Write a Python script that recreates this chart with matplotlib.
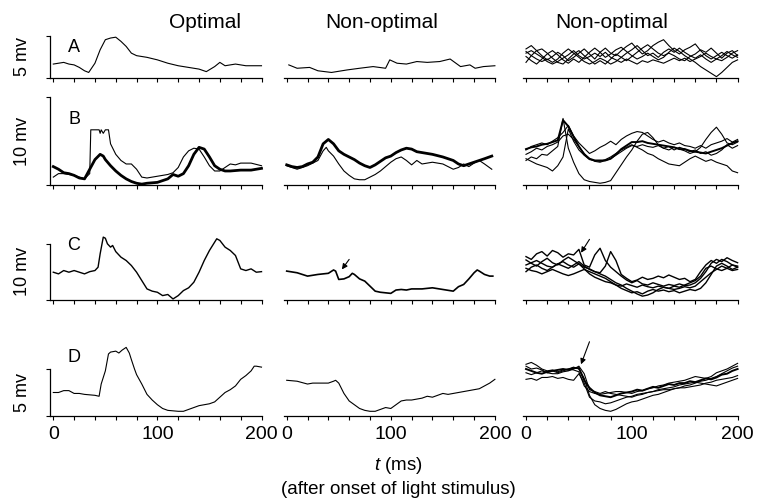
import matplotlib
matplotlib.use("Agg")
import matplotlib.pyplot as plt

plt.rcParams['font.family'] = ['Liberation Sans', 'DejaVu Sans']
plt.rcParams['mathtext.fontset'] = 'custom'
plt.rcParams['mathtext.it'] = 'Liberation Sans:italic'
plt.rcParams['mathtext.rm'] = 'Liberation Sans'

# ---------------- data (time in ms, voltage in mV above baseline) ----------------
col_titles = ["Optimal", "Non-optimal", "Non-optimal"]
row_letters = ["A", "B", "C", "D"]
row_scale_mv = [5, 10, 10, 5]
row_scale_labels = ["5 mv", "10 mv", "10 mv", "5 mv"]
xtick_values = [0, 20, 40, 60, 80, 100, 120, 140, 160, 180, 200]
xtick_labels = ["0", "", "", "", "", "100", "", "", "", "", "200"]

T5 = list(range(0, 201, 5))

# Row A
A1_t = [0, 5, 10, 15, 20, 25, 30, 34, 40, 45, 50, 55, 60, 65, 70, 75, 80, 90, 100, 110,
        120, 130, 140, 147, 155, 160, 165, 175, 185, 200]
A1_v = [1.6, 1.7, 1.8, 1.6, 1.5, 1.2, 0.8, 0.6, 1.7, 3.3, 4.5, 4.7, 4.8, 4.3, 3.7, 2.9, 2.6, 2.4, 2.1, 1.7,
        1.4, 1.2, 1.0, 0.7, 1.3, 1.8, 1.4, 1.6, 1.4, 1.4]
A2_t = [2, 10, 22, 30, 43, 58, 70, 83, 95, 99, 106, 115, 125, 135, 147, 157, 167, 176, 181, 189, 200]
A2_v = [1.5, 1.1, 1.2, 0.8, 0.6, 0.9, 1.1, 1.3, 1.1, 2.1, 1.7, 1.6, 1.9, 1.8, 1.9, 2.2, 1.3, 1.5, 1.1, 1.3, 1.4]
A3_1 = [3.4, 3.8, 3.2, 2.6, 2.1, 2.5, 3.0, 2.6, 2.0, 2.4, 2.9, 3.4, 2.8, 2.2, 3.0, 3.5, 2.9, 2.6, 3.2, 3.7,
        4.1, 3.4, 2.8, 3.2, 3.8, 4.2, 4.5, 3.8, 3.2, 2.8, 3.3, 3.6, 4.0, 3.2, 2.6, 2.2, 2.6, 3.0, 2.6, 2.3, 2.7]
A3_2 = [2.5, 2.0, 1.6, 2.2, 2.8, 3.2, 2.7, 2.1, 1.7, 2.2, 1.8, 2.4, 3.0, 3.5, 3.0, 2.4, 2.8, 3.3, 3.6, 3.1,
        2.6, 2.2, 2.5, 2.9, 2.5, 2.1, 2.4, 3.0, 3.5, 3.1, 2.6, 2.2, 1.8, 1.3, 0.9, 0.5, 0.1, 0.6, 1.2, 1.8, 2.1]
A3_3 = [1.8, 2.6, 3.2, 3.4, 2.9, 2.3, 1.8, 1.6, 2.2, 2.8, 3.2, 2.6, 2.1, 1.6, 2.0, 1.6, 2.2, 2.8, 2.4, 2.0,
        2.5, 3.0, 3.5, 3.9, 3.4, 2.9, 2.6, 2.9, 2.6, 2.2, 2.0, 2.5, 2.8, 3.3, 3.0, 3.5, 2.9, 2.3, 2.9, 3.2, 2.6]
A3_4 = [2.9, 3.2, 2.8, 2.4, 1.9, 1.6, 1.9, 2.3, 2.7, 3.2, 2.6, 2.2, 2.5, 2.9, 2.5, 3.0, 2.4, 2.1, 1.8, 2.2,
        1.9, 1.6, 2.0, 1.8, 2.1, 1.9, 1.7, 2.0, 2.3, 2.0, 2.3, 1.9, 2.2, 2.5, 2.9, 2.5, 2.2, 2.6, 3.1, 2.7, 2.4]
A3_5 = [3.1, 2.6, 2.2, 1.9, 2.2, 1.8, 2.2, 2.9, 3.4, 2.9, 2.4, 1.9, 1.6, 1.9, 2.3, 2.0, 1.6, 1.9, 2.4, 2.9,
        3.3, 3.8, 3.2, 2.6, 2.9, 2.4, 3.0, 3.4, 3.0, 3.5, 3.0, 2.6, 2.3, 2.7, 2.2, 1.8, 2.2, 2.0, 2.4, 2.9, 3.2]

# Row B
B1_thin_t = [0, 5, 10, 20, 30, 35, 36, 40, 44, 45, 46, 48, 50, 53, 55, 60, 65, 70, 75, 80,
             85, 90, 100, 110, 115, 120, 125, 130, 135, 140, 145, 150, 155, 160, 165, 170, 175, 180, 190, 200]
B1_thin_v = [0.9, 1.3, 1.3, 1.1, 0.7, 1.3, 6.3, 6.3, 6.3, 5.9, 6.3, 5.9, 6.3, 6.3, 4.7, 3.5, 2.8, 2.4, 2.4, 1.8,
             0.9, 0.8, 1.0, 1.2, 1.4, 2.0, 3.2, 3.9, 4.2, 4.1, 3.2, 2.2, 1.6, 1.6, 2.0, 2.4, 2.3, 2.5, 2.5, 2.2]
B1_thick_t = [0, 5, 10, 15, 20, 25, 30, 35, 40, 45, 48, 50, 55, 60, 65, 70, 75, 80, 85, 90,
              100, 110, 115, 120, 125, 130, 135, 140, 145, 150, 155, 160, 165, 170, 180, 190, 200]
B1_thick_v = [2.1, 1.8, 1.4, 1.3, 1.1, 0.8, 0.7, 1.8, 2.9, 3.5, 3.3, 2.9, 2.2, 1.6, 1.1, 0.7, 0.4, 0.2, 0.1, 0.2,
              0.3, 0.7, 1.2, 1.0, 1.3, 2.2, 3.5, 4.3, 4.1, 3.2, 2.2, 1.8, 1.6, 1.6, 1.7, 1.7, 1.9]
B2_thick_t = [0, 5, 10, 15, 20, 25, 30, 35, 40, 45, 50, 55, 60, 65, 70, 75, 80, 85, 90, 95,
              100, 105, 110, 115, 120, 125, 130, 140, 150, 160, 165, 170, 175, 180, 190, 197]
B2_thick_v = [2.3, 2.1, 2.0, 2.1, 2.4, 2.6, 3.2, 4.7, 5.2, 4.7, 3.9, 3.5, 3.2, 2.9, 2.5, 2.2, 2.0, 2.3, 2.7, 3.1,
              3.3, 3.7, 4.0, 4.2, 4.1, 3.8, 3.7, 3.5, 3.2, 2.8, 2.4, 2.2, 2.4, 2.6, 3.0, 3.3]
B2_thin_t = [0, 10, 20, 30, 35, 38, 40, 45, 50, 55, 60, 65, 70, 75, 80, 85, 90, 95, 100, 105,
             110, 115, 120, 125, 130, 140, 150, 160, 165, 170, 175, 180, 185, 190, 197]
B2_thin_v = [2.2, 1.8, 2.2, 2.8, 3.9, 4.3, 3.9, 3.3, 2.4, 1.6, 1.1, 0.7, 0.6, 0.6, 0.9, 1.2, 1.6, 2.1, 2.6, 3.0,
             3.2, 2.8, 2.3, 2.8, 2.4, 2.6, 2.4, 1.8, 2.0, 2.4, 2.1, 2.5, 2.8, 2.4, 1.8]
B3_1 = [2.8, 3.2, 3.0, 3.5, 3.4, 3.9, 4.4, 7.6, 4.2, 2.6, 1.3, 0.6, 0.4, 0.3, 0.2, 0.3, 0.5, 1.4, 2.3, 3.2,
        4.0, 5.0, 5.8, 6.0, 5.4, 4.6, 4.2, 4.4, 4.0, 4.3, 4.1, 3.8, 4.0, 3.6, 3.8, 3.4, 3.6, 4.0, 4.6, 4.2, 4.5]
B3_2 = [3.0, 2.7, 2.4, 2.2, 2.0, 1.6, 2.2, 3.2, 6.4, 5.0, 4.0, 3.4, 2.9, 2.8, 2.7, 2.9, 3.2, 3.6, 4.0, 4.3,
        4.6, 4.3, 4.0, 3.6, 3.4, 3.0, 2.7, 2.4, 2.3, 2.2, 2.6, 3.0, 3.3, 3.0, 2.7, 2.9, 2.6, 2.4, 2.2, 1.6, 1.4]
B3_3 = [4.0, 4.4, 4.6, 4.8, 4.6, 5.0, 5.4, 6.0, 6.8, 5.6, 4.8, 4.2, 3.6, 3.9, 4.3, 4.6, 5.0, 4.6, 5.2, 5.6,
        5.9, 6.1, 6.0, 5.6, 5.2, 4.9, 5.1, 4.8, 4.6, 4.8, 4.5, 4.4, 4.2, 4.5, 4.2, 4.6, 4.8, 5.0, 5.3, 4.9, 5.2]
B3_4 = [3.5, 3.8, 4.2, 4.0, 4.4, 4.6, 4.9, 5.6, 5.8, 5.2, 4.4, 3.6, 3.0, 2.7, 2.6, 2.8, 3.0, 3.4, 3.8, 4.2,
        4.5, 4.4, 4.6, 4.4, 4.3, 4.5, 4.2, 4.0, 4.3, 4.1, 3.9, 3.6, 3.8, 4.3, 5.2, 6.0, 6.6, 5.8, 4.8, 4.6, 4.9]
B3_5 = [4.1, 4.3, 4.4, 4.6, 4.7, 4.9, 5.1, 7.4, 6.7, 5.5, 4.4, 3.5, 3.0, 2.8, 2.8, 2.8, 3.0, 3.5, 4.1, 4.5,
        4.9, 4.9, 5.0, 4.8, 4.7, 4.6, 4.5, 4.4, 4.3, 4.1, 4.1, 3.9, 3.8, 3.7, 3.6, 3.8, 4.0, 4.2, 4.5, 4.8, 5.0]

# Row C
C1_t = [0, 5, 10, 15, 20, 25, 30, 35, 40, 43, 45, 48, 50, 52, 55, 57, 60, 65, 70, 75,
        80, 85, 90, 95, 100, 105, 110, 115, 120, 125, 130, 135, 140, 145, 150, 155, 157, 160, 165, 170,
        175, 180, 185, 190, 195, 200]
C1_v = [4.9, 4.6, 5.2, 4.9, 5.2, 4.9, 4.6, 5.0, 5.2, 5.8, 8.2, 11.2, 11.0, 10.0, 9.4, 9.7, 8.6, 7.6, 7.0, 6.1,
        4.9, 3.4, 1.9, 1.5, 1.3, 0.7, 0.9, 0.1, 0.7, 1.6, 2.1, 3.1, 4.9, 7.0, 8.8, 10.3, 10.9, 10.6, 9.4, 8.8,
        7.9, 5.5, 5.2, 5.5, 4.9, 5.0]
C2_t = [0, 10, 15, 20, 30, 40, 45, 47, 50, 55, 60, 63, 65, 70, 75, 80, 85, 90, 95, 100,
        105, 110, 115, 120, 130, 140, 150, 160, 165, 170, 175, 180, 183, 185, 190, 195, 198]
C2_v = [5.1, 4.8, 4.5, 4.2, 4.5, 4.7, 5.3, 5.1, 3.6, 3.7, 4.1, 4.7, 4.5, 3.7, 3.3, 2.4, 1.5, 1.3, 1.2, 1.1,
        1.7, 1.8, 1.7, 1.9, 1.9, 2.1, 1.8, 1.5, 2.3, 2.7, 3.7, 4.8, 5.3, 5.1, 4.5, 4.2, 4.2]
C3_1 = [7.7, 7.2, 8.2, 8.6, 7.8, 8.8, 8.4, 7.6, 8.2, 8.0, 9.0, 6.2, 5.8, 8.0, 9.2, 7.0, 5.8, 5.0, 4.2, 3.5,
        3.0, 3.4, 2.8, 2.6, 3.0, 2.7, 2.4, 2.7, 2.5, 2.8, 2.5, 2.6, 3.0, 3.8, 5.0, 6.5, 7.2, 6.8, 7.5, 7.0, 6.6]
C3_2 = [7.1, 6.5, 6.0, 6.8, 7.4, 6.6, 6.2, 7.0, 7.6, 7.0, 6.4, 5.8, 5.5, 5.0, 4.8, 6.0, 8.6, 7.0, 4.5, 3.8,
        3.2, 3.5, 4.0, 3.6, 3.8, 4.2, 3.9, 4.4, 4.0, 3.6, 3.8, 3.2, 3.6, 5.0, 6.2, 7.0, 6.5, 7.2, 6.8, 6.2, 5.8]
C3_3 = [6.2, 6.6, 7.0, 6.5, 6.0, 5.8, 6.4, 6.0, 5.6, 6.2, 6.8, 6.0, 5.4, 5.0, 4.6, 4.2, 3.6, 3.0, 2.6, 2.0,
        1.5, 1.0, 0.6, 0.8, 1.2, 1.8, 2.2, 2.0, 2.4, 2.2, 2.6, 3.0, 3.4, 4.2, 5.6, 6.0, 5.5, 5.2, 5.6, 5.2, 5.4]
C3_4 = [5.6, 5.2, 5.0, 4.6, 5.0, 5.4, 5.0, 4.6, 4.3, 4.6, 5.0, 5.4, 5.0, 4.6, 4.2, 3.8, 3.2, 2.6, 2.0, 1.6,
        1.2, 1.4, 1.0, 1.5, 1.8, 1.5, 1.7, 1.4, 1.6, 1.2, 1.5, 1.8, 1.6, 2.0, 3.0, 4.5, 6.0, 6.5, 6.0, 5.4, 5.8]
C3_5 = [5.0, 5.8, 6.2, 5.6, 5.2, 5.8, 6.4, 6.8, 6.2, 5.8, 6.4, 5.5, 4.6, 4.0, 3.6, 3.2, 3.0, 2.6, 2.4, 2.8,
        2.5, 2.2, 2.6, 2.3, 2.1, 2.4, 2.2, 2.0, 1.8, 2.0, 2.3, 2.1, 2.4, 3.2, 4.0, 4.8, 5.4, 6.0, 5.6, 6.2, 6.0]

# Row D
D1_t = [0, 5, 10, 15, 20, 25, 30, 40, 44, 46, 50, 53, 55, 60, 63, 66, 70, 73, 75, 78,
        80, 85, 90, 95, 100, 105, 110, 120, 125, 130, 140, 150, 155, 160, 165, 170, 175, 180, 185, 190,
        193, 195, 200]
D1_v = [2.5, 2.5, 2.7, 2.7, 2.4, 2.4, 2.3, 2.2, 2.1, 3.4, 4.8, 6.6, 6.8, 6.9, 6.7, 7.0, 7.3, 6.7, 6.0, 5.0,
        4.4, 3.4, 2.3, 1.7, 1.2, 0.8, 0.6, 0.5, 0.5, 0.7, 1.1, 1.3, 1.5, 2.0, 2.5, 2.8, 3.2, 3.9, 4.3, 4.8,
        5.3, 5.3, 5.2]
D2_t = [0, 10, 20, 25, 30, 40, 45, 47, 50, 55, 60, 65, 70, 75, 80, 85, 90, 95, 100, 105,
        110, 115, 120, 125, 130, 135, 140, 145, 150, 155, 160, 165, 170, 175, 180, 185, 190, 195, 200]
D2_v = [3.8, 3.7, 3.4, 3.5, 3.5, 3.5, 3.7, 3.8, 3.5, 2.4, 1.6, 1.2, 0.8, 0.6, 0.5, 0.5, 0.7, 0.9, 0.8, 1.2,
        1.6, 1.7, 1.7, 1.8, 1.9, 2.1, 2.0, 2.2, 2.4, 2.3, 2.4, 2.5, 2.6, 2.7, 2.8, 2.9, 3.2, 3.5, 3.9]
D3_1 = [5.0, 4.8, 4.6, 4.5, 4.7, 4.8, 4.9, 5.0, 4.9, 5.1, 5.1, 3.8, 3.0, 2.5, 2.2, 2.1, 2.0, 2.2, 2.4, 2.5,
        2.6, 2.8, 2.7, 2.9, 3.1, 3.0, 3.2, 3.4, 3.3, 3.5, 3.5, 3.7, 3.6, 3.8, 4.0, 3.9, 4.1, 4.4, 4.5, 4.8, 5.0]
D3_2 = [5.5, 5.7, 5.4, 5.0, 4.8, 4.9, 4.7, 4.9, 5.0, 5.2, 5.0, 4.0, 2.2, 1.2, 0.8, 0.6, 0.5, 0.7, 1.0, 1.3,
        1.5, 1.6, 1.8, 2.0, 2.2, 2.3, 2.5, 2.7, 2.9, 3.0, 3.2, 3.3, 3.5, 3.7, 3.8, 4.0, 4.2, 4.5, 4.8, 5.1, 5.3]
D3_3 = [3.9, 4.0, 3.8, 4.1, 4.1, 4.2, 4.0, 4.1, 3.9, 3.8, 4.5, 3.5, 2.0, 1.6, 1.5, 1.3, 1.4, 1.6, 1.8, 2.0,
        2.1, 2.3, 2.4, 2.5, 2.6, 2.7, 2.8, 2.8, 2.9, 3.0, 3.0, 3.1, 3.2, 3.3, 3.5, 3.6, 3.8, 3.9, 4.0, 4.1, 4.3]
D3_4 = [5.3, 5.0, 5.1, 4.9, 4.6, 4.8, 4.6, 4.8, 5.0, 4.9, 4.7, 3.2, 2.6, 2.4, 2.3, 2.4, 2.5, 2.6, 2.6, 2.5,
        2.4, 2.6, 2.7, 2.9, 3.0, 3.2, 3.3, 3.5, 3.6, 3.7, 3.8, 4.0, 4.2, 4.1, 4.0, 4.2, 4.6, 4.8, 5.0, 5.3, 5.6]
D3_5 = [4.6, 4.4, 4.6, 4.8, 4.6, 4.5, 4.5, 4.7, 4.8, 5.0, 5.3, 4.5, 2.8, 2.6, 2.4, 2.6, 2.4, 2.3, 2.2, 2.1,
        2.0, 2.2, 2.3, 2.5, 2.6, 2.8, 2.9, 3.0, 3.1, 3.3, 3.4, 3.5, 3.6, 3.5, 3.4, 3.3, 3.2, 3.4, 3.6, 3.8, 4.0]

# arrows: (row, col, tail_t, tail_mV, head_t, head_mV)
arrows = [(2, 1, 60, 7.2, 53, 5.4), (2, 2, 60, 10.8, 52, 8.4), (3, 2, 60, 7.9, 52, 5.5)]

THIN, THICK, MULTI = 0.8, 2.0, 0.8
panels = {
    (0, 0): [(A1_t, A1_v, THIN)],
    (0, 1): [(A2_t, A2_v, THIN)],
    (0, 2): [(T5, v, MULTI) for v in (A3_1, A3_2, A3_3, A3_4, A3_5)],
    (1, 0): [(B1_thin_t, B1_thin_v, THIN), (B1_thick_t, B1_thick_v, THICK)],
    (1, 1): [(B2_thin_t, B2_thin_v, THIN), (B2_thick_t, B2_thick_v, THICK)],
    (1, 2): [(T5, v, MULTI) for v in (B3_1, B3_2, B3_3, B3_4)] + [(T5, B3_5, 1.4)],
    (2, 0): [(C1_t, C1_v, 1.0)],
    (2, 1): [(C2_t, C2_v, 1.2)],
    (2, 2): [(T5, v, 1.0) for v in (C3_1, C3_2, C3_3, C3_4, C3_5)],
    (3, 0): [(D1_t, D1_v, THIN)],
    (3, 1): [(D2_t, D2_v, THIN)],
    (3, 2): [(T5, v, MULTI) for v in (D3_2, D3_3, D3_4, D3_5)] + [(T5, D3_1, 1.4)],
}

# ---------------- layout (pixels) ----------------
W, H = 770, 504
col_t0 = [53.3, 286.7, 526.0]
col_ppms = [1.041, 1.041, 1.058]
row_axis_y = [77.5, 185.0, 299.5, 416.0]
row_ppmv = [8.4, 8.76, 5.57, 9.4]
row_top_y = [28, 90, 232, 338]
XMIN, XMAX = -3, 201

fig = plt.figure(figsize=(W / 100, H / 100), dpi=100)

for r in range(4):
    for c in range(3):
        x0 = col_t0[c] + XMIN * col_ppms[c]
        x1 = col_t0[c] + XMAX * col_ppms[c]
        y0 = row_axis_y[r]
        y1 = row_top_y[r]
        ax = fig.add_axes([x0 / W, 1 - y0 / H, (x1 - x0) / W, (y0 - y1) / H])
        ax.set_xlim(XMIN, XMAX)
        ax.set_ylim(0, (y0 - y1) / row_ppmv[r])
        ax.patch.set_alpha(0)
        for s in ("top", "right"):
            ax.spines[s].set_visible(False)
        ax.spines["bottom"].set_linewidth(0.9)
        ax.spines["bottom"].set_bounds(XMIN, 200)
        ax.set_xticks(xtick_values)
        ax.tick_params(axis="x", direction="out", length=3, width=0.8, pad=4)
        if r == 3:
            ax.set_xticklabels(xtick_labels, fontsize=14)
        else:
            ax.set_xticklabels([])
        if c == 0:
            ax.spines["left"].set_bounds(0, row_scale_mv[r])
            ax.spines["left"].set_linewidth(0.9)
            ax.set_yticks([0, row_scale_mv[r]])
            ax.set_yticklabels([])
            ax.tick_params(axis="y", direction="out", length=3, width=0.8)
        else:
            ax.spines["left"].set_visible(False)
            ax.set_yticks([])
        for t, v, lw in panels[(r, c)]:
            ax.plot(t, v, color="black", lw=lw, clip_on=False, solid_joinstyle="round")
        for (ar, ac, tt, tv, ht, hv) in arrows:
            if ar == r and ac == c:
                ax.annotate("", xy=(ht, hv), xytext=(tt, tv), annotation_clip=False,
                            arrowprops=dict(arrowstyle="-|>", lw=0.8, color="black",
                                            mutation_scale=8, shrinkA=0, shrinkB=0))

# titles
for x, title in zip([205, 382, 612], col_titles):
    fig.text(x / W, 1 - 22 / H, title, fontsize=15, ha="center", va="center")

# panel letters
for (x, y), letter in zip([(74, 48), (74, 120), (74, 246), (74, 357)], row_letters):
    fig.text(x / W, 1 - y / H, letter, fontsize=13, ha="center", va="center")

# scale labels
for r, lab in enumerate(row_scale_labels):
    yc = row_axis_y[r] - row_scale_mv[r] * row_ppmv[r] / 2
    fig.text(22.5 / W, 1 - yc / H, lab, fontsize=13, rotation=90, ha="center", va="center")

fig.text(398 / W, 1 - 465 / H, r"$\mathit{t}$ (ms)", fontsize=13.5, ha="center", va="center")
fig.text(398 / W, 1 - 489 / H, "(after onset of light stimulus)", fontsize=13.5, ha="center", va="center")

fig.savefig("out.png", dpi=100)
